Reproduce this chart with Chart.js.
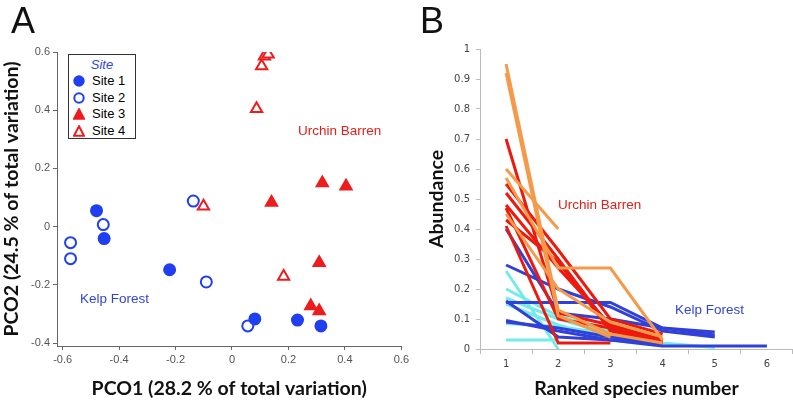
<!DOCTYPE html>
<html>
<head>
<meta charset="utf-8">
<script src="https://cdn.jsdelivr.net/npm/chart.js@4/dist/chart.umd.min.js"></script>
<style>
  body { margin: 0; background: #fff; width: 793px; height: 400px; position: relative; overflow: hidden; font-family: "Liberation Sans", Arial, sans-serif; }
  canvas { position: absolute; top: 0; }
  .panel { position: absolute; font-size: 36px; color: #111; line-height: 1; }
  .note { position: absolute; font-size: 13.5px; line-height: 16px; white-space: nowrap; }
  #legend { position: absolute; left: 68px; top: 54px; width: 66px; height: 83px; border: 1px solid #333; background: #fff; font-size: 13px; }
  #legend .ttl { text-align: center; font-style: italic; color: #3044e0; height: 17px; line-height: 17px; margin-top: 1px; }
  #legend .row { height: 16.5px; line-height: 16.5px; display: flex; align-items: center; }
  #legend svg { margin-left: 4px; margin-right: 7px; }
</style>
</head>
<body>
<canvas id="chartA" width="412" height="400" style="left:0"></canvas>
<canvas id="chartB" width="383" height="400" style="left:410px"></canvas>
<div class="panel" style="left:11px; top:3px;">A</div>
<div class="panel" style="left:420px; top:3px;">B</div>
<div id="legend"></div>
<div class="note" style="left:298px; top:123px; color:#e0201c;">Urchin Barren</div>
<div class="note" style="left:80px; top:291px; color:#3044d8;">Kelp Forest</div>
<div class="note" style="left:558px; top:197px; color:#e0201c;">Urchin Barren</div>
<div class="note" style="left:675px; top:302px; color:#3044d8;">Kelp Forest</div>
<script>
// --- PANEL A DATA (PCO ordination) ---
const siteNames = ['Site 1', 'Site 2', 'Site 3', 'Site 4'];
const site1X = [-0.48, -0.453, -0.221, 0.081, 0.232, 0.315];
const site1Y = [0.055, -0.041, -0.148, -0.317, -0.321, -0.341];
const site2X = [-0.456, -0.572, -0.572, -0.137, -0.091, 0.056];
const site2Y = [0.007, -0.055, -0.11, 0.088, -0.19, -0.341];
const site3X = [0.32, 0.404, 0.14, 0.309, 0.279, 0.309];
const site3Y = [0.15, 0.139, 0.083, -0.124, -0.273, -0.29];
const site4X = [0.115, 0.128, 0.105, 0.087, -0.101, 0.183];
const site4Y = [0.585, 0.592, 0.552, 0.405, 0.07, -0.171];
const pcoXTicks = [-0.6, -0.4, -0.2, 0, 0.2, 0.4, 0.6];
const pcoYTicks = [-0.4, -0.2, 0, 0.2, 0.4, 0.6];

// --- PANEL B DATA (rank abundance) ---
const rankLabels = ['1', '2', '3', '4', '5', '6'];
const abundanceTicks = [0, 0.1, 0.2, 0.3, 0.4, 0.5, 0.6, 0.7, 0.8, 0.9, 1];
const orangeSeries = [
    [0.95, 0.13, 0.05, 0.02],
    [0.92, 0.11, 0.04],
    [0.6, 0.4],
    [0.57, 0.27, 0.27, 0.03],
    [0.45, 0.2, 0.09, 0.04]
];
const redSeries = [
    [0.7, 0.12, 0.08, 0.03],
    [0.55, 0.33, 0.1, 0.05],
    [0.52, 0.3, 0.07, 0.02],
    [0.48, 0.27, 0.08, 0.03],
    [0.43, 0.29, 0.06, 0.02],
    [0.41, 0.02, 0.02],
    [0.47, 0.1, 0.07, 0.02]
];
const blueSeries = [
    [0.4, 0.12, 0.1, 0.07, 0.047],
    [0.28, 0.2, 0.14, 0.06, 0.04],
    [0.155, 0.155, 0.155, 0.07, 0.057],
    [0.16, 0.04, 0.03, 0.02],
    [0.095, 0.06, 0.03, 0.01, 0.01, 0.01],
    [0.09, 0.07, 0.04, 0.02]
];
const cyanSeries = [
    [0.26, 0.0],
    [0.2, 0.11, 0.06, 0.02],
    [0.17, 0.1, 0.05, 0.02, 0.005],
    [0.15, 0.08, 0.03, 0.01],
    [0.085, 0.075, 0.05, 0.01],
    [0.03, 0.03]
];

// --- STYLES ---
const BLUE = '#1f3ff0';
const RED = '#ee1c1c';
const siteStyles = [
    { style: 'circle', fill: BLUE, stroke: BLUE, r: 5.5 },
    { style: 'circle', fill: '#fff', stroke: BLUE, r: 5.5 },
    { style: 'triangle', fill: RED, stroke: RED, r: 6.5 },
    { style: 'triangle', fill: '#fff', stroke: RED, r: 6.5 }
];
const titleFont = { family: 'Lato, "Liberation Sans", sans-serif', size: 19.5, weight: 'bold' };
const fixTicks = list => scale => { scale.ticks = list.map(v => ({ value: v })); };
const fmt = v => String(+Number(v).toFixed(2));

// --- LEGEND (HTML) ---
function markerSvg(s) {
    const shape = s.style === 'circle'
        ? `<circle cx="6" cy="6" r="4.7" fill="${s.fill}" stroke="${s.stroke}" stroke-width="2"/>`
        : `<polygon points="6,1.3 11,10.8 1,10.8" fill="${s.fill}" stroke="${s.stroke}" stroke-width="2"/>`;
    return `<svg width="12" height="12">${shape}</svg>`;
}
const legend = document.getElementById('legend');
legend.innerHTML = '<div class="ttl">Site</div>' +
    siteNames.map((n, i) => `<div class="row">${markerSvg(siteStyles[i])}<span>${n}</span></div>`).join('');

// --- PANEL A CHART ---
const siteX = [site1X, site2X, site3X, site4X];
const siteY = [site1Y, site2Y, site3Y, site4Y];
const tickFontA = { family: '"Liberation Sans", Arial', size: 11 };
new Chart(document.getElementById('chartA'), {
    type: 'scatter',
    data: {
        datasets: siteNames.map((name, i) => ({
            label: name,
            data: siteX[i].map((x, j) => ({ x, y: siteY[i][j] })),
            pointStyle: siteStyles[i].style,
            pointRadius: siteStyles[i].r,
            backgroundColor: siteStyles[i].fill,
            borderColor: siteStyles[i].stroke,
            pointBorderWidth: 2
        }))
    },
    options: {
        responsive: false,
        animation: false,
        layout: { padding: { left: 0, top: 52, right: 9, bottom: 0 } },
        plugins: { legend: { display: false }, tooltip: { enabled: false } },
        scales: {
            x: {
                type: 'linear', min: -0.62, max: 0.6,
                afterBuildTicks: fixTicks(pcoXTicks),
                afterFit: s => { s.height = 54; },
                border: { color: '#666' },
                grid: { drawOnChartArea: false, color: '#666', tickLength: 4 },
                ticks: { padding: 3, color: '#555', font: tickFontA, callback: fmt },
                title: { display: true, text: 'PCO1 (28.2 % of total variation)', color: '#111', font: titleFont, padding: { top: 0, bottom: 0 } }
            },
            y: {
                type: 'linear', min: -0.41, max: 0.6,
                afterBuildTicks: fixTicks(pcoYTicks),
                afterFit: s => { s.width = 57; },
                border: { color: '#666' },
                grid: { drawOnChartArea: false, color: '#666', tickLength: 4 },
                ticks: { padding: 3, color: '#555', font: tickFontA, callback: fmt },
                title: { display: true, text: 'PCO2 (24.5 % of total variation)', color: '#111', font: titleFont, padding: { top: 0, bottom: 0 } }
            }
        }
    }
});

// --- PANEL B CHART ---
const groups = [
    { series: orangeSeries, color: '#f59a4a' },
    { series: redSeries, color: '#ec1a0e' },
    { series: blueSeries, color: '#3040d8' },
    { series: cyanSeries, color: '#74ebe8' }
];
const lineSets = [];
groups.forEach(g => g.series.forEach(vals => lineSets.push({
    data: vals,
    borderColor: g.color,
    borderWidth: 3,
    pointRadius: 0,
    tension: 0,
    fill: false
})));

const tickFontB = { family: '"DejaVu Sans", Verdana', size: 10 };
new Chart(document.getElementById('chartB'), {
    type: 'line',
    data: { labels: rankLabels, datasets: lineSets },
    options: {
        responsive: false,
        animation: false,
        layout: { padding: { left: 0, top: 49, right: 0, bottom: 0 } },
        plugins: { legend: { display: false }, tooltip: { enabled: false } },
        scales: {
            x: {
                type: 'category', offset: true,
                afterFit: s => { s.height = 51; },
                border: { color: '#bbb' },
                grid: { offset: true, drawOnChartArea: false, color: '#bbb', tickLength: 5 },
                ticks: { padding: 4, color: '#444', font: tickFontB },
                title: { display: true, text: 'Ranked species number', color: '#111', font: titleFont, padding: { top: 0, bottom: 0 } }
            },
            y: {
                min: 0, max: 1,
                afterBuildTicks: fixTicks(abundanceTicks),
                afterFit: s => { s.width = 70; },
                border: { color: '#bbb' },
                grid: { drawOnChartArea: false, color: '#bbb', tickLength: 4 },
                ticks: { padding: 6, color: '#444', font: tickFontB, callback: fmt },
                title: { display: true, text: 'Abundance', color: '#111', font: titleFont, padding: { top: 15, bottom: 0 } }
            }
        }
    }
});
</script>
</body>
</html>
